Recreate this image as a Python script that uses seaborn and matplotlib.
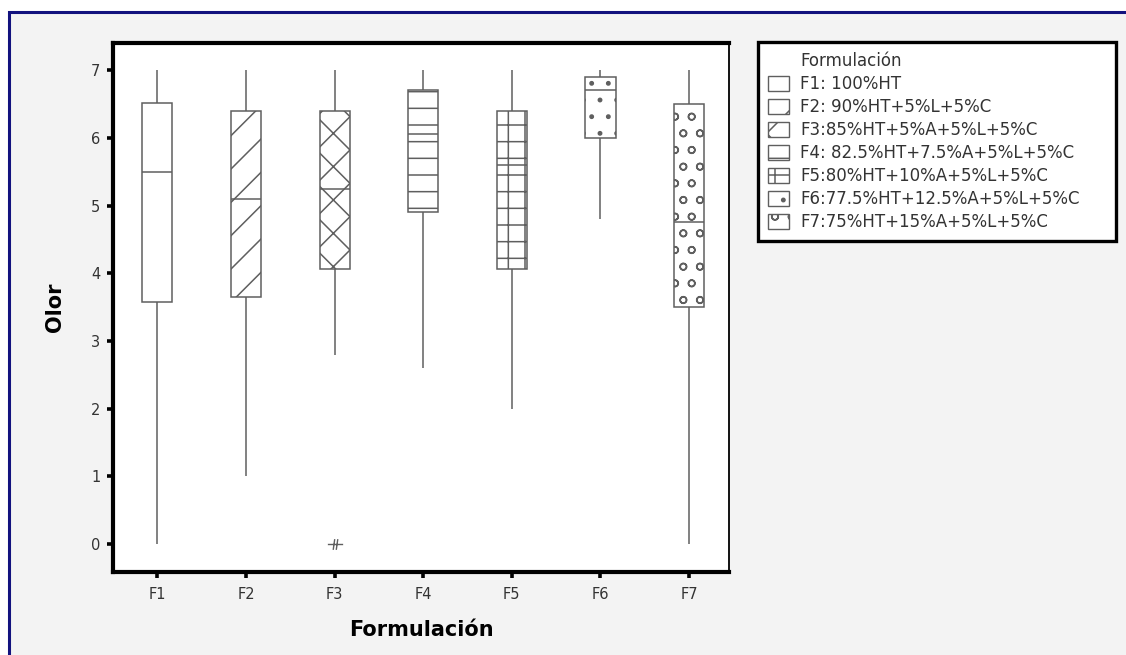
import pandas as pd
import matplotlib
matplotlib.use("Agg")
import matplotlib.pyplot as plt
from matplotlib.patches import Patch, Rectangle
from matplotlib.path import Path
import seaborn as sns

# Olor scores per formulation: box-plot summary values
categories = ["F1", "F2", "F3", "F4", "F5", "F6", "F7"]
legend_labels = [
    "F1: 100%HT",
    "F2: 90%HT+5%L+5%C",
    "F3:85%HT+5%A+5%L+5%C",
    "F4: 82.5%HT+7.5%A+5%L+5%C",
    "F5:80%HT+10%A+5%L+5%C",
    "F6:77.5%HT+12.5%A+5%L+5%C",
    "F7:75%HT+15%A+5%L+5%C",
]
whisker_low = [0.0, 1.0, 2.8, 2.6, 2.0, 4.8, 0.0]
q1 = [3.58, 3.65, 4.06, 4.91, 4.07, 6.0, 3.5]
medians = [5.5, 5.1, 5.25, 6.05, 5.6, 6.7, 4.75]
q3 = [6.52, 6.4, 6.4, 6.7, 6.4, 6.9, 6.5]
whisker_high = [7.0, 7.0, 7.0, 7.0, 7.0, 7.0, 7.0]
outlier_groups = ["F3"]
outlier_values = [0.0]
y_ticks = [0, 1, 2, 3, 4, 5, 6, 7]

# Fill pattern for each formulation
hatches = ["", "/", "x", "-", "+", ".", "o"]

sns.set_style("ticks")
plt.rcParams["font.family"] = ["DejaVu Sans"]
plt.rcParams["hatch.linewidth"] = 1.1
plt.rcParams["hatch.color"] = "#555555"

line_gray = "#5f5f5f"
text_gray = "#333333"

# Long table: the five summary numbers of each group
rows = []
for i, c in enumerate(categories):
    for v in (whisker_low[i], q1[i], medians[i], q3[i], whisker_high[i]):
        rows.append({"Formulación": c, "Olor": v})
df = pd.DataFrame(rows)

fig = plt.figure(figsize=(11.26, 6.55), dpi=100, facecolor="white")

# Panel background with navy frame line on the left and top
fig.add_artist(Rectangle((8.5 / 1126, -0.05), 1.2, (655 - 11.5) / 655 + 0.05,
                         transform=fig.transFigure, facecolor="#f3f3f3",
                         edgecolor="#12127e", linewidth=2.2, zorder=-10))

ax = fig.add_axes([113 / 1126, (655 - 572) / 655, 616 / 1126, 529 / 655])
ax.set_facecolor("white")

sns.boxplot(data=df, x="Formulación", y="Olor", order=categories,
            color="white", linecolor=line_gray, linewidth=1.1, width=0.34,
            whis=(0, 100), showcaps=False, showfliers=False, ax=ax)

for patch, h in zip(ax.patches, hatches):
    patch.set_facecolor("white")
    patch.set_edgecolor(line_gray)
    patch.set_hatch(h)

# Outlying observation
star = Path([(-1, 0), (1, 0), (-0.3, -0.7), (-0.1, 0.7), (0.1, -0.7), (0.3, 0.7)],
            [Path.MOVETO, Path.LINETO, Path.MOVETO, Path.LINETO, Path.MOVETO, Path.LINETO])
for g, v in zip(outlier_groups, outlier_values):
    ax.plot(categories.index(g), v, linestyle="none", marker=star, markersize=11,
            markerfacecolor="none", markeredgecolor=line_gray, markeredgewidth=1.0)

ax.set_xlim(-0.5, 6.45)
ax.set_ylim(-0.41, 7.40)
ax.set_yticks(y_ticks)
ax.set_yticklabels([str(t) for t in y_ticks])

for side in ("left", "top", "bottom"):
    ax.spines[side].set_visible(True)
    ax.spines[side].set_linewidth(3.0)
    ax.spines[side].set_color("black")
ax.spines["right"].set_visible(True)
ax.spines["right"].set_linewidth(1.3)
ax.spines["right"].set_color("black")

ax.tick_params(axis="both", direction="out", length=4, width=2.6, color="black",
               labelcolor=text_gray, labelsize=10.5)
ax.tick_params(axis="x", pad=7)
ax.tick_params(axis="y", pad=5)

ax.set_xlabel("Formulación", fontsize=15, fontweight="bold", color="black")
ax.set_ylabel("Olor", fontsize=15, fontweight="bold", color="black")
ax.xaxis.set_label_coords(0.5, -0.091)
ax.yaxis.set_label_coords(-0.078, 0.5)

# Legend with the fill pattern of every formulation
handles = [Patch(visible=False)]
labels = ["Formulación"]
for lab, h in zip(legend_labels, hatches):
    handles.append(Patch(facecolor="white", edgecolor=line_gray, hatch=h, linewidth=1.0))
    labels.append(lab)

leg = fig.legend(handles, labels, loc="upper left",
                 bbox_to_anchor=(758 / 1126, 1 - 42 / 655 - 0.01, 358 / 1126, 0.01),
                 mode="expand", borderaxespad=0, fontsize=12,
                 handlelength=1.25, handleheight=1.0, handletextpad=0.7,
                 labelspacing=0.30, borderpad=0.6, fancybox=False,
                 framealpha=1, facecolor="white", edgecolor="black")
leg.get_frame().set_linewidth(2.4)
for t in leg.get_texts():
    t.set_color(text_gray)

fig.savefig("out.png", dpi=100, facecolor=fig.get_facecolor())
